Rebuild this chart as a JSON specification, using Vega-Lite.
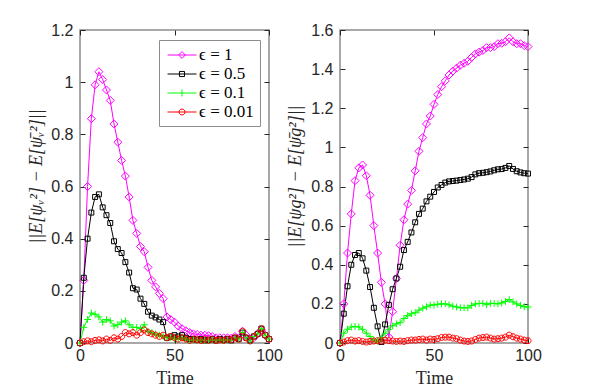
{
  "$schema": "https://vega.github.io/schema/vega-lite/v6.json",
  "background": "white",
  "padding": {"left": 27, "top": 21, "right": 0, "bottom": 0},
  "spacing": 71,
  "bounds": "flush",
  "config": {
    "view": {"stroke": "#8c8c8c", "strokeWidth": 1.5},
    "axis": {"grid": false, "domain": false, "labelFlush": false, "labelOverlap": false, "labelBound": false, "tickCount": 12, "labelFont": "Liberation Sans", "labelFontSize": 16, "labelColor": "#262626", "tickColor": "#262626", "tickSize": -5, "titleFont": "Liberation Serif", "titleFontSize": 18, "titleFontWeight": "normal", "titleColor": "#262626"},
    "legend": {"labelFont": "Liberation Serif", "labelFontSize": 17, "labelColor": "#000000"}
  },
  "datasets": {
    "L": [
      {"t":0,"v":0,"e":"1"},{"t":2,"v":0.24,"e":"1"},{"t":4,"v":0.6,"e":"1"},{"t":6,"v":0.86,"e":"1"},{"t":8,"v":0.99,"e":"1"},{"t":10,"v":1.04,"e":"1"},{"t":12,"v":1.01,"e":"1"},{"t":14,"v":0.97,"e":"1"},{"t":16,"v":0.93,"e":"1"},{"t":18,"v":0.84,"e":"1"},{"t":20,"v":0.77,"e":"1"},{"t":22,"v":0.7,"e":"1"},{"t":24,"v":0.64,"e":"1"},{"t":26,"v":0.56,"e":"1"},{"t":28,"v":0.47,"e":"1"},{"t":30,"v":0.42,"e":"1"},{"t":32,"v":0.37,"e":"1"},{"t":34,"v":0.35,"e":"1"},{"t":36,"v":0.29,"e":"1"},{"t":38,"v":0.24,"e":"1"},{"t":40,"v":0.215,"e":"1"},{"t":42,"v":0.19,"e":"1"},{"t":44,"v":0.17,"e":"1"},{"t":46,"v":0.1,"e":"1"},{"t":48,"v":0.09,"e":"1"},{"t":50,"v":0.08,"e":"1"},{"t":52,"v":0.065,"e":"1"},{"t":54,"v":0.055,"e":"1"},{"t":56,"v":0.047,"e":"1"},{"t":58,"v":0.04,"e":"1"},{"t":60,"v":0.035,"e":"1"},{"t":62,"v":0.033,"e":"1"},{"t":64,"v":0.03,"e":"1"},{"t":66,"v":0.03,"e":"1"},{"t":68,"v":0.028,"e":"1"},{"t":70,"v":0.025,"e":"1"},{"t":72,"v":0.02,"e":"1"},{"t":74,"v":0.02,"e":"1"},{"t":76,"v":0.02,"e":"1"},{"t":78,"v":0.02,"e":"1"},{"t":80,"v":0.018,"e":"1"},{"t":82,"v":0.025,"e":"1"},{"t":84,"v":0.02,"e":"1"},{"t":86,"v":0.045,"e":"1"},{"t":88,"v":0.03,"e":"1"},{"t":90,"v":0.015,"e":"1"},{"t":92,"v":0.02,"e":"1"},{"t":94,"v":0.035,"e":"1"},{"t":96,"v":0.05,"e":"1"},{"t":98,"v":0.03,"e":"1"},{"t":100,"v":0.015,"e":"1"},
      {"t":0,"v":0,"e":"0.5"},{"t":2,"v":0.25,"e":"0.5"},{"t":4,"v":0.4,"e":"0.5"},{"t":6,"v":0.5,"e":"0.5"},{"t":8,"v":0.56,"e":"0.5"},{"t":10,"v":0.57,"e":"0.5"},{"t":12,"v":0.52,"e":"0.5"},{"t":14,"v":0.49,"e":"0.5"},{"t":16,"v":0.46,"e":"0.5"},{"t":18,"v":0.39,"e":"0.5"},{"t":20,"v":0.36,"e":"0.5"},{"t":22,"v":0.345,"e":"0.5"},{"t":24,"v":0.31,"e":"0.5"},{"t":26,"v":0.27,"e":"0.5"},{"t":28,"v":0.21,"e":"0.5"},{"t":30,"v":0.205,"e":"0.5"},{"t":32,"v":0.17,"e":"0.5"},{"t":34,"v":0.15,"e":"0.5"},{"t":36,"v":0.12,"e":"0.5"},{"t":38,"v":0.105,"e":"0.5"},{"t":40,"v":0.098,"e":"0.5"},{"t":42,"v":0.09,"e":"0.5"},{"t":44,"v":0.08,"e":"0.5"},{"t":46,"v":0.02,"e":"0.5"},{"t":48,"v":0.025,"e":"0.5"},{"t":50,"v":0.03,"e":"0.5"},{"t":52,"v":0.025,"e":"0.5"},{"t":54,"v":0.03,"e":"0.5"},{"t":56,"v":0.02,"e":"0.5"},{"t":58,"v":0.015,"e":"0.5"},{"t":60,"v":0.015,"e":"0.5"},{"t":62,"v":0.012,"e":"0.5"},{"t":64,"v":0.015,"e":"0.5"},{"t":66,"v":0.01,"e":"0.5"},{"t":68,"v":0.012,"e":"0.5"},{"t":70,"v":0.015,"e":"0.5"},{"t":72,"v":0.01,"e":"0.5"},{"t":74,"v":0.015,"e":"0.5"},{"t":76,"v":0.012,"e":"0.5"},{"t":78,"v":0.015,"e":"0.5"},{"t":80,"v":0.01,"e":"0.5"},{"t":82,"v":0.02,"e":"0.5"},{"t":84,"v":0.015,"e":"0.5"},{"t":86,"v":0.04,"e":"0.5"},{"t":88,"v":0.02,"e":"0.5"},{"t":90,"v":0.01,"e":"0.5"},{"t":92,"v":0.025,"e":"0.5"},{"t":94,"v":0.035,"e":"0.5"},{"t":96,"v":0.055,"e":"0.5"},{"t":98,"v":0.03,"e":"0.5"},{"t":100,"v":0.015,"e":"0.5"},
      {"t":0,"v":0,"e":"0.1"},{"t":2,"v":0.06,"e":"0.1"},{"t":4,"v":0.09,"e":"0.1"},{"t":6,"v":0.115,"e":"0.1"},{"t":8,"v":0.11,"e":"0.1"},{"t":10,"v":0.1,"e":"0.1"},{"t":12,"v":0.08,"e":"0.1"},{"t":14,"v":0.09,"e":"0.1"},{"t":16,"v":0.085,"e":"0.1"},{"t":18,"v":0.065,"e":"0.1"},{"t":20,"v":0.07,"e":"0.1"},{"t":22,"v":0.08,"e":"0.1"},{"t":24,"v":0.085,"e":"0.1"},{"t":26,"v":0.07,"e":"0.1"},{"t":28,"v":0.06,"e":"0.1"},{"t":30,"v":0.06,"e":"0.1"},{"t":32,"v":0.055,"e":"0.1"},{"t":34,"v":0.07,"e":"0.1"},{"t":36,"v":0.045,"e":"0.1"},{"t":38,"v":0.04,"e":"0.1"},{"t":40,"v":0.035,"e":"0.1"},{"t":42,"v":0.03,"e":"0.1"},{"t":44,"v":0.025,"e":"0.1"},{"t":46,"v":0.02,"e":"0.1"},{"t":48,"v":0.02,"e":"0.1"},{"t":50,"v":0.015,"e":"0.1"},{"t":52,"v":0.015,"e":"0.1"},{"t":54,"v":0.02,"e":"0.1"},{"t":56,"v":0.015,"e":"0.1"},{"t":58,"v":0.01,"e":"0.1"},{"t":60,"v":0.012,"e":"0.1"},{"t":62,"v":0.01,"e":"0.1"},{"t":64,"v":0.012,"e":"0.1"},{"t":66,"v":0.01,"e":"0.1"},{"t":68,"v":0.01,"e":"0.1"},{"t":70,"v":0.012,"e":"0.1"},{"t":72,"v":0.01,"e":"0.1"},{"t":74,"v":0.012,"e":"0.1"},{"t":76,"v":0.01,"e":"0.1"},{"t":78,"v":0.012,"e":"0.1"},{"t":80,"v":0.01,"e":"0.1"},{"t":82,"v":0.02,"e":"0.1"},{"t":84,"v":0.015,"e":"0.1"},{"t":86,"v":0.04,"e":"0.1"},{"t":88,"v":0.02,"e":"0.1"},{"t":90,"v":0.008,"e":"0.1"},{"t":92,"v":0.025,"e":"0.1"},{"t":94,"v":0.035,"e":"0.1"},{"t":96,"v":0.055,"e":"0.1"},{"t":98,"v":0.03,"e":"0.1"},{"t":100,"v":0.015,"e":"0.1"},
      {"t":0,"v":0,"e":"0.01"},{"t":2,"v":0.005,"e":"0.01"},{"t":4,"v":0.008,"e":"0.01"},{"t":6,"v":0.005,"e":"0.01"},{"t":8,"v":0.01,"e":"0.01"},{"t":10,"v":0.012,"e":"0.01"},{"t":12,"v":0.008,"e":"0.01"},{"t":14,"v":0.015,"e":"0.01"},{"t":16,"v":0.01,"e":"0.01"},{"t":18,"v":0.02,"e":"0.01"},{"t":20,"v":0.015,"e":"0.01"},{"t":22,"v":0.025,"e":"0.01"},{"t":24,"v":0.04,"e":"0.01"},{"t":26,"v":0.035,"e":"0.01"},{"t":28,"v":0.04,"e":"0.01"},{"t":30,"v":0.03,"e":"0.01"},{"t":32,"v":0.04,"e":"0.01"},{"t":34,"v":0.05,"e":"0.01"},{"t":36,"v":0.04,"e":"0.01"},{"t":38,"v":0.035,"e":"0.01"},{"t":40,"v":0.03,"e":"0.01"},{"t":42,"v":0.025,"e":"0.01"},{"t":44,"v":0.03,"e":"0.01"},{"t":46,"v":0.02,"e":"0.01"},{"t":48,"v":0.025,"e":"0.01"},{"t":50,"v":0.02,"e":"0.01"},{"t":52,"v":0.015,"e":"0.01"},{"t":54,"v":0.02,"e":"0.01"},{"t":56,"v":0.015,"e":"0.01"},{"t":58,"v":0.01,"e":"0.01"},{"t":60,"v":0.015,"e":"0.01"},{"t":62,"v":0.012,"e":"0.01"},{"t":64,"v":0.01,"e":"0.01"},{"t":66,"v":0.015,"e":"0.01"},{"t":68,"v":0.01,"e":"0.01"},{"t":70,"v":0.015,"e":"0.01"},{"t":72,"v":0.01,"e":"0.01"},{"t":74,"v":0.012,"e":"0.01"},{"t":76,"v":0.01,"e":"0.01"},{"t":78,"v":0.015,"e":"0.01"},{"t":80,"v":0.012,"e":"0.01"},{"t":82,"v":0.02,"e":"0.01"},{"t":84,"v":0.015,"e":"0.01"},{"t":86,"v":0.045,"e":"0.01"},{"t":88,"v":0.02,"e":"0.01"},{"t":90,"v":0.008,"e":"0.01"},{"t":92,"v":0.025,"e":"0.01"},{"t":94,"v":0.035,"e":"0.01"},{"t":96,"v":0.055,"e":"0.01"},{"t":98,"v":0.03,"e":"0.01"},{"t":100,"v":0.015,"e":"0.01"}
    ],
    "R": [
      {"t":0,"v":0,"e":"1"},{"t":2,"v":0.2,"e":"1"},{"t":4,"v":0.46,"e":"1"},{"t":6,"v":0.66,"e":"1"},{"t":8,"v":0.83,"e":"1"},{"t":10,"v":0.895,"e":"1"},{"t":12,"v":0.91,"e":"1"},{"t":14,"v":0.855,"e":"1"},{"t":16,"v":0.755,"e":"1"},{"t":18,"v":0.6,"e":"1"},{"t":20,"v":0.46,"e":"1"},{"t":22,"v":0.31,"e":"1"},{"t":24,"v":0.2,"e":"1"},{"t":26,"v":0.03,"e":"1"},{"t":28,"v":0.16,"e":"1"},{"t":30,"v":0.33,"e":"1"},{"t":32,"v":0.5,"e":"1"},{"t":34,"v":0.63,"e":"1"},{"t":36,"v":0.71,"e":"1"},{"t":38,"v":0.78,"e":"1"},{"t":40,"v":0.88,"e":"1"},{"t":42,"v":0.98,"e":"1"},{"t":44,"v":1.05,"e":"1"},{"t":46,"v":1.12,"e":"1"},{"t":48,"v":1.16,"e":"1"},{"t":50,"v":1.22,"e":"1"},{"t":52,"v":1.27,"e":"1"},{"t":54,"v":1.31,"e":"1"},{"t":56,"v":1.34,"e":"1"},{"t":58,"v":1.37,"e":"1"},{"t":60,"v":1.39,"e":"1"},{"t":62,"v":1.405,"e":"1"},{"t":64,"v":1.42,"e":"1"},{"t":66,"v":1.43,"e":"1"},{"t":68,"v":1.44,"e":"1"},{"t":70,"v":1.46,"e":"1"},{"t":72,"v":1.478,"e":"1"},{"t":74,"v":1.487,"e":"1"},{"t":76,"v":1.495,"e":"1"},{"t":78,"v":1.51,"e":"1"},{"t":80,"v":1.51,"e":"1"},{"t":82,"v":1.515,"e":"1"},{"t":84,"v":1.53,"e":"1"},{"t":86,"v":1.532,"e":"1"},{"t":88,"v":1.54,"e":"1"},{"t":90,"v":1.56,"e":"1"},{"t":92,"v":1.54,"e":"1"},{"t":94,"v":1.53,"e":"1"},{"t":96,"v":1.53,"e":"1"},{"t":98,"v":1.52,"e":"1"},{"t":100,"v":1.515,"e":"1"},
      {"t":0,"v":0,"e":"0.5"},{"t":2,"v":0.15,"e":"0.5"},{"t":4,"v":0.29,"e":"0.5"},{"t":6,"v":0.4,"e":"0.5"},{"t":8,"v":0.45,"e":"0.5"},{"t":10,"v":0.46,"e":"0.5"},{"t":12,"v":0.433,"e":"0.5"},{"t":14,"v":0.37,"e":"0.5"},{"t":16,"v":0.286,"e":"0.5"},{"t":18,"v":0.18,"e":"0.5"},{"t":20,"v":0.085,"e":"0.5"},{"t":22,"v":0.005,"e":"0.5"},{"t":24,"v":0.095,"e":"0.5"},{"t":26,"v":0.195,"e":"0.5"},{"t":28,"v":0.275,"e":"0.5"},{"t":30,"v":0.33,"e":"0.5"},{"t":32,"v":0.39,"e":"0.5"},{"t":34,"v":0.475,"e":"0.5"},{"t":36,"v":0.517,"e":"0.5"},{"t":38,"v":0.565,"e":"0.5"},{"t":40,"v":0.617,"e":"0.5"},{"t":42,"v":0.66,"e":"0.5"},{"t":44,"v":0.687,"e":"0.5"},{"t":46,"v":0.724,"e":"0.5"},{"t":48,"v":0.748,"e":"0.5"},{"t":50,"v":0.772,"e":"0.5"},{"t":52,"v":0.795,"e":"0.5"},{"t":54,"v":0.808,"e":"0.5"},{"t":56,"v":0.82,"e":"0.5"},{"t":58,"v":0.826,"e":"0.5"},{"t":60,"v":0.828,"e":"0.5"},{"t":62,"v":0.83,"e":"0.5"},{"t":64,"v":0.833,"e":"0.5"},{"t":66,"v":0.836,"e":"0.5"},{"t":68,"v":0.84,"e":"0.5"},{"t":70,"v":0.848,"e":"0.5"},{"t":72,"v":0.862,"e":"0.5"},{"t":74,"v":0.868,"e":"0.5"},{"t":76,"v":0.87,"e":"0.5"},{"t":78,"v":0.873,"e":"0.5"},{"t":80,"v":0.877,"e":"0.5"},{"t":82,"v":0.883,"e":"0.5"},{"t":84,"v":0.888,"e":"0.5"},{"t":86,"v":0.889,"e":"0.5"},{"t":88,"v":0.895,"e":"0.5"},{"t":90,"v":0.905,"e":"0.5"},{"t":92,"v":0.89,"e":"0.5"},{"t":94,"v":0.878,"e":"0.5"},{"t":96,"v":0.872,"e":"0.5"},{"t":98,"v":0.868,"e":"0.5"},{"t":100,"v":0.866,"e":"0.5"},
      {"t":0,"v":0,"e":"0.1"},{"t":2,"v":0.05,"e":"0.1"},{"t":4,"v":0.07,"e":"0.1"},{"t":6,"v":0.082,"e":"0.1"},{"t":8,"v":0.085,"e":"0.1"},{"t":10,"v":0.082,"e":"0.1"},{"t":12,"v":0.07,"e":"0.1"},{"t":14,"v":0.05,"e":"0.1"},{"t":16,"v":0.033,"e":"0.1"},{"t":18,"v":0.015,"e":"0.1"},{"t":20,"v":0.01,"e":"0.1"},{"t":22,"v":0.025,"e":"0.1"},{"t":24,"v":0.05,"e":"0.1"},{"t":26,"v":0.07,"e":"0.1"},{"t":28,"v":0.088,"e":"0.1"},{"t":30,"v":0.098,"e":"0.1"},{"t":32,"v":0.104,"e":"0.1"},{"t":34,"v":0.125,"e":"0.1"},{"t":36,"v":0.14,"e":"0.1"},{"t":38,"v":0.15,"e":"0.1"},{"t":40,"v":0.155,"e":"0.1"},{"t":42,"v":0.168,"e":"0.1"},{"t":44,"v":0.178,"e":"0.1"},{"t":46,"v":0.185,"e":"0.1"},{"t":48,"v":0.194,"e":"0.1"},{"t":50,"v":0.194,"e":"0.1"},{"t":52,"v":0.198,"e":"0.1"},{"t":54,"v":0.2,"e":"0.1"},{"t":56,"v":0.2,"e":"0.1"},{"t":58,"v":0.195,"e":"0.1"},{"t":60,"v":0.188,"e":"0.1"},{"t":62,"v":0.184,"e":"0.1"},{"t":64,"v":0.18,"e":"0.1"},{"t":66,"v":0.18,"e":"0.1"},{"t":68,"v":0.18,"e":"0.1"},{"t":70,"v":0.192,"e":"0.1"},{"t":72,"v":0.2,"e":"0.1"},{"t":74,"v":0.202,"e":"0.1"},{"t":76,"v":0.203,"e":"0.1"},{"t":78,"v":0.196,"e":"0.1"},{"t":80,"v":0.203,"e":"0.1"},{"t":82,"v":0.202,"e":"0.1"},{"t":84,"v":0.2,"e":"0.1"},{"t":86,"v":0.205,"e":"0.1"},{"t":88,"v":0.212,"e":"0.1"},{"t":90,"v":0.222,"e":"0.1"},{"t":92,"v":0.21,"e":"0.1"},{"t":94,"v":0.2,"e":"0.1"},{"t":96,"v":0.192,"e":"0.1"},{"t":98,"v":0.185,"e":"0.1"},{"t":100,"v":0.184,"e":"0.1"},
      {"t":0,"v":0,"e":"0.01"},{"t":2,"v":0.005,"e":"0.01"},{"t":4,"v":0.012,"e":"0.01"},{"t":6,"v":0.015,"e":"0.01"},{"t":8,"v":0.01,"e":"0.01"},{"t":10,"v":0.012,"e":"0.01"},{"t":12,"v":0.008,"e":"0.01"},{"t":14,"v":0.005,"e":"0.01"},{"t":16,"v":0.008,"e":"0.01"},{"t":18,"v":0.01,"e":"0.01"},{"t":20,"v":0.012,"e":"0.01"},{"t":22,"v":0.01,"e":"0.01"},{"t":24,"v":0.015,"e":"0.01"},{"t":26,"v":0.012,"e":"0.01"},{"t":28,"v":0.01,"e":"0.01"},{"t":30,"v":0.008,"e":"0.01"},{"t":32,"v":0.01,"e":"0.01"},{"t":34,"v":0.008,"e":"0.01"},{"t":36,"v":0.012,"e":"0.01"},{"t":38,"v":0.015,"e":"0.01"},{"t":40,"v":0.015,"e":"0.01"},{"t":42,"v":0.018,"e":"0.01"},{"t":44,"v":0.02,"e":"0.01"},{"t":46,"v":0.015,"e":"0.01"},{"t":48,"v":0.02,"e":"0.01"},{"t":50,"v":0.018,"e":"0.01"},{"t":52,"v":0.022,"e":"0.01"},{"t":54,"v":0.028,"e":"0.01"},{"t":56,"v":0.03,"e":"0.01"},{"t":58,"v":0.03,"e":"0.01"},{"t":60,"v":0.025,"e":"0.01"},{"t":62,"v":0.022,"e":"0.01"},{"t":64,"v":0.015,"e":"0.01"},{"t":66,"v":0.01,"e":"0.01"},{"t":68,"v":0.008,"e":"0.01"},{"t":70,"v":0.01,"e":"0.01"},{"t":72,"v":0.018,"e":"0.01"},{"t":74,"v":0.025,"e":"0.01"},{"t":76,"v":0.028,"e":"0.01"},{"t":78,"v":0.03,"e":"0.01"},{"t":80,"v":0.025,"e":"0.01"},{"t":82,"v":0.02,"e":"0.01"},{"t":84,"v":0.022,"e":"0.01"},{"t":86,"v":0.025,"e":"0.01"},{"t":88,"v":0.03,"e":"0.01"},{"t":90,"v":0.04,"e":"0.01"},{"t":92,"v":0.032,"e":"0.01"},{"t":94,"v":0.025,"e":"0.01"},{"t":96,"v":0.02,"e":"0.01"},{"t":98,"v":0.015,"e":"0.01"},{"t":100,"v":0.012,"e":"0.01"}
    ]
  },
  "hconcat": [
    {
      "width": 189, "height": 313,
      "data": {"name": "L"},
      "resolve": {"axis": {"x": "independent", "y": "independent"}},
      "layer": [
        {
          "layer": [
            {
              "mark": {"type": "line", "strokeWidth": 1},
              "encoding": {
                "x": {"field": "t", "type": "quantitative", "scale": {"domain": [0, 100], "nice": false}, "axis": {"values": [0, 50, 100], "labelPadding": 9, "title": "Time", "titlePadding": 6}},
                "y": {"field": "v", "type": "quantitative", "scale": {"domain": [0, 1.2], "nice": false}, "axis": {"values": [0, 0.2, 0.4, 0.6, 0.8, 1, 1.2], "tickCount": 12, "format": "~g", "labelOverlap": false, "labelPadding": 12, "title": "||E[ψᵥ²] − E[ψ̄ᵥ²]||", "titleFontStyle": "italic", "titlePadding": 5, "titleY": 146}},
                "color": {"field": "e", "type": "nominal", "scale": {"domain": ["1", "0.5", "0.1", "0.01"], "range": ["#ff00ff", "#000000", "#00ff00", "#ff0000"]}, "legend": {"title": null, "orient": "none", "legendX": 79, "legendY": 10, "strokeColor": "#8c8c8c", "fillColor": "white", "padding": 6, "labelFont": "Liberation Serif", "labelFontSize": 17, "labelColor": "#000000", "labelOffset": 16, "labelExpr": "'ϵ = ' + datum.label", "symbolStrokeWidth": 1, "rowPadding": 2, "encode": {"labels": {"update": {"font": {"value": "Liberation Serif"}, "fontSize": {"value": 17}}}, "symbols": {"update": {"size": {"value": 289}, "fill": {"value": "transparent"}, "shape": {"signal": "datum.value == '1' ? 'M-0.76,0H2.65M0.94,-0.4L1.34,0L0.94,0.4L0.54,0Z' : datum.value == '0.5' ? 'M-0.76,0H2.65M0.64,-0.3H1.24V0.3H0.64Z' : datum.value == '0.1' ? 'M-0.76,0H2.65M0.94,-0.41V0.41' : 'M-0.76,0H2.65M1.29,0A0.35,0.35,0,1,1,0.59,0A0.35,0.35,0,1,1,1.29,0'"}}}}}}
              }
            },
            {
              "transform": [{"filter": "datum.e == '1'"}],
              "mark": {"type": "point", "shape": "M0,-1L1,0L0,1L-1,0Z", "filled": false, "strokeWidth": 1, "size": 64, "opacity": 1},
              "encoding": {"x": {"field": "t", "type": "quantitative"}, "y": {"field": "v", "type": "quantitative"}, "color": {"field": "e", "type": "nominal"}}
            },
            {
              "transform": [{"filter": "datum.e == '0.5'"}],
              "mark": {"type": "point", "shape": "M-0.62,-0.62H0.62V0.62H-0.62Z", "filled": false, "strokeWidth": 1, "size": 64, "opacity": 1},
              "encoding": {"x": {"field": "t", "type": "quantitative"}, "y": {"field": "v", "type": "quantitative"}, "color": {"field": "e", "type": "nominal"}}
            },
            {
              "transform": [{"filter": "datum.e == '0.1'"}],
              "mark": {"type": "point", "shape": "M-0.85,0H0.85M0,-0.85V0.85", "filled": false, "strokeWidth": 1, "size": 64, "opacity": 1},
              "encoding": {"x": {"field": "t", "type": "quantitative"}, "y": {"field": "v", "type": "quantitative"}, "color": {"field": "e", "type": "nominal"}}
            },
            {
              "transform": [{"filter": "datum.e == '0.01'"}],
              "mark": {"type": "point", "shape": "M0.75,0A0.75,0.75,0,1,1,-0.75,0A0.75,0.75,0,1,1,0.75,0", "filled": false, "strokeWidth": 1, "size": 64, "opacity": 1},
              "encoding": {"x": {"field": "t", "type": "quantitative"}, "y": {"field": "v", "type": "quantitative"}, "color": {"field": "e", "type": "nominal"}}
            }
          ]
        },
        {
          "mark": {"type": "point", "opacity": 0},
          "encoding": {
            "x": {"field": "t", "type": "quantitative", "axis": {"orient": "top", "values": [0, 50, 100], "labels": false, "title": null}},
            "y": {"field": "v", "type": "quantitative", "axis": {"orient": "right", "values": [0, 0.2, 0.4, 0.6, 0.8, 1, 1.2], "tickCount": 12, "labels": false, "title": null}}
          }
        }
      ]
    },
    {
      "width": 188, "height": 313,
      "data": {"name": "R"},
      "resolve": {"axis": {"x": "independent", "y": "independent"}},
      "layer": [
        {
          "layer": [
            {
              "mark": {"type": "line", "strokeWidth": 1},
              "encoding": {
                "x": {"field": "t", "type": "quantitative", "scale": {"domain": [0, 100], "nice": false}, "axis": {"values": [0, 50, 100], "labelPadding": 9, "title": "Time", "titlePadding": 6}},
                "y": {"field": "v", "type": "quantitative", "scale": {"domain": [0, 1.6], "nice": false}, "axis": {"values": [0, 0.2, 0.4, 0.6, 0.8, 1, 1.2, 1.4, 1.6], "tickCount": 12, "format": "~g", "labelOverlap": false, "labelPadding": 12, "title": "||E[ψg²] − E[ψ̄g²]||", "titleFontStyle": "italic", "titlePadding": 6, "titleY": 146}},
                "color": {"field": "e", "type": "nominal", "legend": {"title": null, "orient": "none", "legendX": 79, "legendY": 10, "strokeColor": "#8c8c8c", "fillColor": "white", "padding": 6, "labelFont": "Liberation Serif", "labelFontSize": 17, "labelColor": "#000000", "labelOffset": 16, "labelExpr": "'ϵ = ' + datum.label", "symbolStrokeWidth": 1, "rowPadding": 2, "encode": {"labels": {"update": {"font": {"value": "Liberation Serif"}, "fontSize": {"value": 17}}}, "symbols": {"update": {"size": {"value": 289}, "fill": {"value": "transparent"}, "shape": {"signal": "datum.value == '1' ? 'M-0.76,0H2.65M0.94,-0.4L1.34,0L0.94,0.4L0.54,0Z' : datum.value == '0.5' ? 'M-0.76,0H2.65M0.64,-0.3H1.24V0.3H0.64Z' : datum.value == '0.1' ? 'M-0.76,0H2.65M0.94,-0.41V0.41' : 'M-0.76,0H2.65M1.29,0A0.35,0.35,0,1,1,0.59,0A0.35,0.35,0,1,1,1.29,0'"}}}}}}
              }
            },
            {
              "transform": [{"filter": "datum.e == '1'"}],
              "mark": {"type": "point", "shape": "M0,-1L1,0L0,1L-1,0Z", "filled": false, "strokeWidth": 1, "size": 64, "opacity": 1},
              "encoding": {"x": {"field": "t", "type": "quantitative"}, "y": {"field": "v", "type": "quantitative"}, "color": {"field": "e", "type": "nominal"}}
            },
            {
              "transform": [{"filter": "datum.e == '0.5'"}],
              "mark": {"type": "point", "shape": "M-0.62,-0.62H0.62V0.62H-0.62Z", "filled": false, "strokeWidth": 1, "size": 64, "opacity": 1},
              "encoding": {"x": {"field": "t", "type": "quantitative"}, "y": {"field": "v", "type": "quantitative"}, "color": {"field": "e", "type": "nominal"}}
            },
            {
              "transform": [{"filter": "datum.e == '0.1'"}],
              "mark": {"type": "point", "shape": "M-0.85,0H0.85M0,-0.85V0.85", "filled": false, "strokeWidth": 1, "size": 64, "opacity": 1},
              "encoding": {"x": {"field": "t", "type": "quantitative"}, "y": {"field": "v", "type": "quantitative"}, "color": {"field": "e", "type": "nominal"}}
            },
            {
              "transform": [{"filter": "datum.e == '0.01'"}],
              "mark": {"type": "point", "shape": "M0.75,0A0.75,0.75,0,1,1,-0.75,0A0.75,0.75,0,1,1,0.75,0", "filled": false, "strokeWidth": 1, "size": 64, "opacity": 1},
              "encoding": {"x": {"field": "t", "type": "quantitative"}, "y": {"field": "v", "type": "quantitative"}, "color": {"field": "e", "type": "nominal"}}
            }
          ]
        },
        {
          "mark": {"type": "point", "opacity": 0},
          "encoding": {
            "x": {"field": "t", "type": "quantitative", "axis": {"orient": "top", "values": [0, 50, 100], "labels": false, "title": null}},
            "y": {"field": "v", "type": "quantitative", "axis": {"orient": "right", "values": [0, 0.2, 0.4, 0.6, 0.8, 1, 1.2, 1.4, 1.6], "tickCount": 12, "labels": false, "title": null}}
          }
        }
      ]
    }
  ]
}
